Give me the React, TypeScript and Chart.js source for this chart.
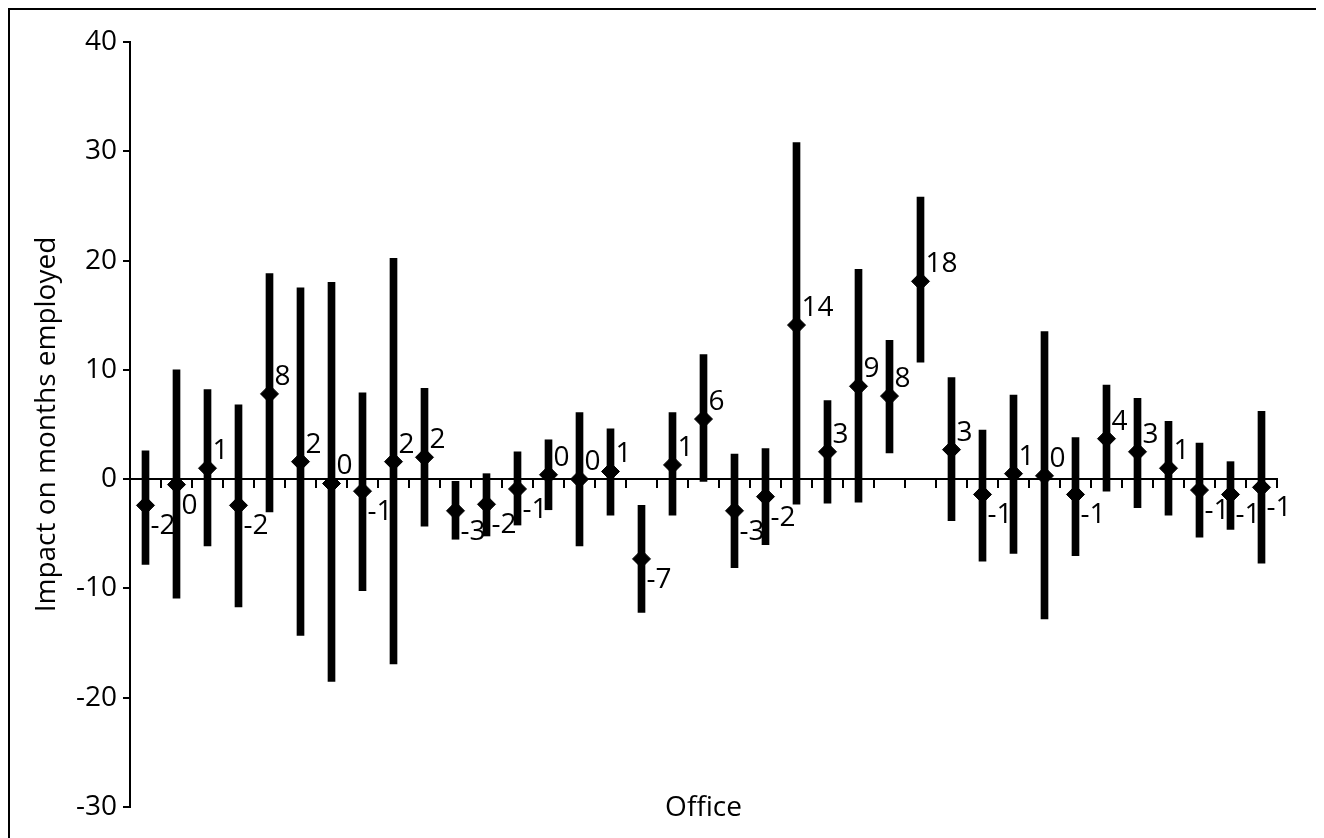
import React, { useEffect, useRef } from 'react';
import { Chart, registerables } from 'chart.js';

Chart.register(...registerables);

const offices = [
  '1', '2', '3', '4', '5', '6', '7', '8', '9', '10',
  '11', '12', '13', '14', '15', '16', '17', '18', '19', '20',
  '21', '22', '23', '24', '25', '26', '27', '28', '29', '30',
  '31', '32', '33', '34', '35', '36', '37',
];

const estimates = [
  -2.4, -0.5, 1.0, -2.4, 7.8, 1.6, -0.4, -1.1, 1.6, 2.0,
  -2.9, -2.3, -0.9, 0.4, 0.0, 0.7, -7.3, 1.3, 5.5, -2.9,
  -1.6, 14.1, 2.5, 8.5, 7.6, 18.1, 2.7, -1.4, 0.5, 0.3,
  -1.4, 3.7, 2.5, 1.0, -1.0, -1.4, -0.75,
];

const lowerBounds = [
  -7.8, -10.9, -6.1, -11.7, -3.0, -14.3, -18.5, -10.2, -16.9, -4.3,
  -5.5, -5.2, -4.2, -2.8, -6.1, -3.3, -12.2, -3.3, -0.2, -8.1,
  -6.0, -2.3, -2.2, -2.1, 2.4, 10.7, -3.8, -7.5, -6.8, -12.8,
  -7.0, -1.1, -2.6, -3.3, -5.3, -4.6, -7.7,
];

const upperBounds = [
  2.6, 10.0, 8.2, 6.8, 18.8, 17.5, 18.0, 7.9, 20.2, 8.3,
  -0.2, 0.5, 2.5, 3.6, 6.1, 4.6, -2.4, 6.1, 11.4, 2.3,
  2.8, 30.8, 7.2, 19.2, 12.7, 25.8, 9.3, 4.5, 7.7, 13.5,
  3.8, 8.6, 7.4, 5.3, 3.3, 1.6, 6.2,
];

const yTicks = [-30, -20, -10, 0, 10, 20, 30, 40];
const yTitle = 'Impact on months employed';
const xTitle = 'Office';

const FONT = "'Open Sans', sans-serif";
const FONT_SIZE = 28;

export default function App() {
  const ref = useRef<HTMLCanvasElement | null>(null);

  useEffect(() => {
    document.documentElement.style.overflow = 'hidden';
    const canvas = ref.current;
    if (!canvas) return;

    const labelPlugin = {
      id: 'pointValueLabels',
      afterDatasetsDraw(chart: any) {
        const meta = chart.getDatasetMeta(0);
        const ctx = chart.ctx;
        ctx.save();
        ctx.font = `${FONT_SIZE}px ${FONT}`;
        ctx.fillStyle = '#000';
        ctx.textAlign = 'left';
        ctx.textBaseline = 'middle';
        meta.data.forEach((pt: any, i: number) => {
          const v = estimates[i];
          const txt = String(Math.round(v));
          const above = v > -0.45;
          ctx.fillText(txt, pt.x + 5, pt.y + (above ? -17 : 21));
        });
        const ca = chart.chartArea;
        ctx.textAlign = 'center';
        ctx.fillText(xTitle, (ca.left + ca.right) / 2, ca.bottom + 1);
        ctx.restore();
      },
    };

    const chart = new Chart(canvas, {
      type: 'bar',
      data: {
        labels: offices,
        datasets: [
          {
            type: 'line',
            data: estimates,
            showLine: false,
            pointStyle: 'rectRot',
            pointRadius: 9,
            pointHoverRadius: 9,
            pointBackgroundColor: '#000',
            pointBorderColor: '#000',
            pointBorderWidth: 1,
            order: 0,
          } as any,
          {
            type: 'bar',
            data: offices.map((_, i) => [lowerBounds[i], upperBounds[i]]),
            backgroundColor: '#000',
            borderWidth: 0,
            barThickness: 7,
            order: 1,
          } as any,
        ],
      },
      options: {
        animation: false,
        responsive: true,
        maintainAspectRatio: false,
        layout: { padding: { left: 0, top: 32, right: 43, bottom: 39 } },
        plugins: {
          legend: { display: false },
          tooltip: { enabled: false },
        },
        scales: {
          x: {
            type: 'category',
            position: { y: 0 } as any,
            offset: true,
            grid: {
              display: true,
              offset: true,
              drawOnChartArea: false,
              drawTicks: true,
              tickLength: 8,
              color: '#000',
              lineWidth: 2,
            },
            border: { display: true, color: '#000', width: 2 },
            ticks: { display: false },
          },
          y: {
            type: 'linear',
            min: -30,
            max: 40,
            afterBuildTicks: (s: any) => {
              s.ticks = yTicks.map((v) => ({ value: v }));
            },
            afterFit: (s: any) => {
              s.width = 120;
            },
            ticks: {
              padding: 6,
              color: '#000',
              font: { size: FONT_SIZE, family: FONT },
            },
            grid: {
              drawOnChartArea: false,
              drawTicks: true,
              tickLength: 7,
              color: '#000',
              lineWidth: 2,
            },
            border: { display: true, color: '#000', width: 2 },
            title: {
              display: true,
              text: yTitle,
              color: '#000',
              font: { size: FONT_SIZE, family: FONT },
              padding: { top: 20, bottom: 0 },
            },
          },
        },
      } as any,
      plugins: [labelPlugin],
    });

    return () => {
      chart.destroy();
    };
  }, []);

  return (
    <div
      style={{
        position: 'relative',
        width: 1314,
        height: 840,
        border: '2px solid #000',
        boxSizing: 'border-box',
        background: '#fff',
      }}
    >
      <canvas ref={ref} style={{ display: 'block' }} />
    </div>
  );
}
